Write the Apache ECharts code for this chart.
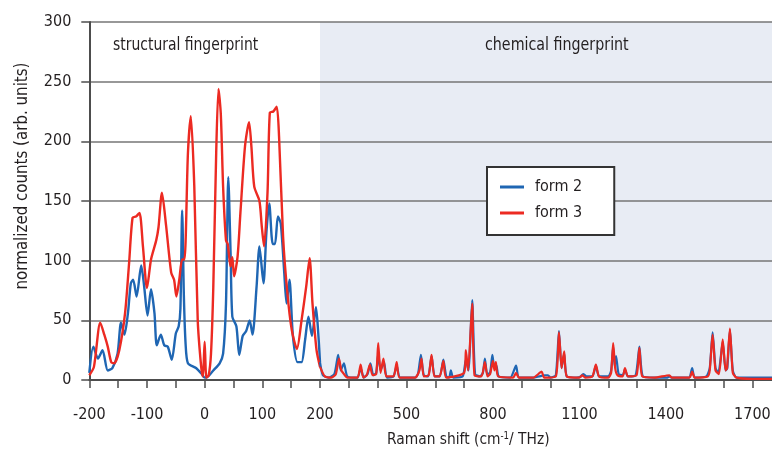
<!DOCTYPE html>
<html>
<head>
<meta charset="utf-8">
<script src="https://cdn.jsdelivr.net/npm/echarts@6/dist/echarts.min.js"></script>
<style>
html,body{margin:0;padding:0;background:#fff;overflow:hidden;}
#c{width:772px;height:455px;}
</style>
</head>
<body>
<div id="c"></div>
<script>
// Raman shift (cm-1) and normalized counts
const form2X = [-200,-193,-185,-177,-168,-160,-151,-145,-139,-133,-128,-124,-118,-110,-105,-99,-93,-87,-83,-76,-70,-64,-57,-50,-45,-42,-39,-36,-33,-29,-15,-5,0,3,15,26,32,37,41,45,48,55,60,66,72,78,83,90,95,102,107,112,118,122,127,132,138,142,147,153,161,168,174,180,186,193,197,200,
  210,230,250,263,272,283,295,330,341,352,365,375,385,395,402,410,422,432,455,466,478,530,540,550,560,575,587,598,615,628,638,648,654,662,695,706,715,728,738,755,765,772,780,790,798,805,812,820,860,880,890,940,960,980,991,1000,1018,1029,1038,1047,1056,1090,1105,1113,1125,1145,1157,1168,1200,1210,1217,1222,1227,1236,1250,1258,1268,1295,1308,1320,1360,1405,1412,1420,1480,1491,1500,1540,1552,1562,1572,1582,1597,1607,1613,1622,1632,1645,1700,1768];
const form2Y = [6,28,18,25,8,10,22,48,38,56,81,84,70,96,79,54,76,56,29,38,29,28,17,39,45,60,142,70,30,14,10,5,2,2,8,14,22,64,170,106,53,45,21,37,41,50,38,78,112,81,123,148,114,114,137,131,90,64,84,37,15,15,33,53,37,61,39,15,
  4,2,5,21,8,14,3,2,10,2,5,14,4,6,22,8,15,2,3,12,2,2,5,21,4,3,20,3,3,17,3,2,8,2,3,17,8,67,5,3,6,18,5,6,21,10,12,3,2,12,2,2,3,4,4,2,4,41,10,22,3,2,3,5,3,3,12,3,3,8,28,12,20,5,4,9,3,4,28,3,2,2,3,2,2,10,2,3,10,40,10,6,32,8,10,42,8,2,2,2];

const form3X = [-200,-192,-181,-174,-168,-162,-157,-148,-138,-131,-125,-119,-113,-107,-100,-93,-84,-80,-74,-67,-58,-53,-49,-44,-39,-35,-29,-24,-18,-12,-6,-3,0,3,7,11,15,20,24,28,32,37,40,45,48,51,57,62,70,77,81,86,95,99,103,109,113,119,125,129,136,143,151,160,168,176,182,187,194,200,
  217,240,255,266,274,283,295,330,341,350,362,373,382,395,402,410,420,430,455,466,476,530,545,552,560,577,587,597,615,628,638,700,706,714,728,736,760,772,781,790,800,805,810,818,870,880,890,940,969,978,1018,1029,1038,1047,1056,1100,1110,1120,1145,1157,1168,1200,1210,1217,1224,1232,1250,1258,1268,1298,1308,1318,1360,1412,1420,1482,1491,1500,1545,1552,1562,1572,1584,1597,1607,1612,1622,1632,1645,1700,1768];
const form3Y = [4,11,48,38,28,15,14,25,56,98,136,137,140,112,77,101,117,128,157,130,90,84,70,84,101,101,190,221,163,50,11,3,32,2,4,22,78,190,244,223,162,117,114,95,103,87,103,140,196,216,196,162,150,129,112,157,224,225,229,204,120,75,42,26,50,78,102,64,25,11,
  3,2,5,18,8,5,2,2,13,2,4,13,4,5,31,6,18,3,3,15,2,2,8,18,3,4,21,3,3,16,2,6,25,8,64,4,3,15,3,5,16,8,15,3,2,6,2,2,7,2,3,40,10,24,3,2,4,2,3,13,3,2,6,31,10,4,3,10,3,4,27,3,2,4,2,2,7,2,3,8,38,8,5,34,8,10,43,6,2,1,1];

const xTicksLeft = [-200,-100,0,100,200];
const xTicksRight = [500,800,1100,1400,1700];
const yTicks = [0,50,100,150,200,250,300];

const SPLIT = 200;
function pairs(xs, ys, lo, hi){
  const out = [];
  for (let i = 0; i < xs.length; i++) if (xs[i] >= lo && xs[i] <= hi) out.push([xs[i], ys[i]]);
  return out;
}

const FONT = "'Liberation Sans Narrow', 'DejaVu Sans Condensed', 'Arial Narrow', sans-serif";
const TXT = '#231f20';
const BLUE = '#1f66b3';
const RED = '#ec2a22';
const AX = '#4d4d4d';
const GRIDC = '#767676';

const chart = echarts.init(document.getElementById('c'), null, {renderer:'canvas'});

const yBase = {
  type:'value', min:0, max:300, interval:50,
  splitLine:{show:true, lineStyle:{color:GRIDC, width:1.6}}
};
const lineBase = {type:'line', showSymbol:false, symbol:'none', smooth:0.25, lineStyle:{width:2.4}, clip:true};

chart.setOption({
  animation:false,
  backgroundColor:'#fff',
  textStyle:{fontFamily:FONT},
  grid:[
    {left:89.3, top:22, width:230.7, height:358, outerBoundsMode:'none'},
    {left:320, top:22, width:452, height:358, outerBoundsMode:'none', show:true, backgroundColor:'#e8ecf4', borderWidth:0}
  ],
  xAxis:[
    {gridIndex:0, type:'value', min:-200, max:200, interval:50,
     axisLine:{show:true, onZero:false, lineStyle:{color:AX, width:2}},
     axisTick:{show:true, inside:false, length:8, lineStyle:{color:AX, width:1.5}},
     axisLabel:{color:TXT, fontSize:16, fontFamily:FONT, margin:27,
       formatter:v => xTicksLeft.indexOf(v) >= 0 ? String(v) : ''},
     splitLine:{show:false}},
    {gridIndex:1, type:'value', min:SPLIT, max:1768, interval:100,
     axisLine:{show:true, onZero:false, lineStyle:{color:AX, width:2}},
     axisTick:{show:true, inside:false, length:8, lineStyle:{color:AX, width:1.5}},
     axisLabel:{color:TXT, fontSize:16, fontFamily:FONT, margin:27, showMinLabel:true, showMaxLabel:false,
       formatter:v => xTicksRight.indexOf(v) >= 0 ? String(v) : ''},
     splitLine:{show:false}}
  ],
  yAxis:[
    Object.assign({gridIndex:0,
      axisLine:{show:true, onZero:false, lineStyle:{color:AX, width:2}},
      axisTick:{show:true, length:8, lineStyle:{color:AX, width:1.5}},
      axisLabel:{color:TXT, fontSize:16, fontFamily:FONT, margin:18,
        formatter:v => yTicks.indexOf(v) >= 0 ? String(v) : ''}}, yBase),
    Object.assign({gridIndex:1,
      axisLine:{show:false, onZero:false}, axisTick:{show:false}, axisLabel:{show:false}}, yBase)
  ],
  legend:{
    orient:'vertical', left:487, top:167,
    data:['form 2','form 3'],
    icon:'rect', itemWidth:24, itemHeight:3, itemGap:10,
    backgroundColor:'#fff', borderColor:'#333', borderWidth:2,
    padding:[12,32,14,13],
    textStyle:{color:TXT, fontSize:16, fontFamily:FONT, padding:[0,0,0,6]},
    selectedMode:false
  },
  graphic:[
    {type:'text', x:113, y:45, scaleX:0.86, silent:true, z:10,
     style:{text:'structural fingerprint', font:'18px ' + FONT, fill:TXT, verticalAlign:'middle'}},
    {type:'text', x:485, y:45, scaleX:0.88, silent:true, z:10,
     style:{text:'chemical fingerprint', font:'18px ' + FONT, fill:TXT, verticalAlign:'middle'}},
    {type:'text', x:387, y:440, scaleX:0.96, silent:true,
     style:{text:'Raman shift (cm{s|-1}/ THz)', font:'16px ' + FONT, fill:TXT, verticalAlign:'middle',
       rich:{s:{fontSize:10, fontFamily:FONT, verticalAlign:'top', padding:[0,0,8,0], fill:TXT}}}},
    {type:'text', x:22, y:176, rotation:Math.PI/2, scaleX:0.93, silent:true,
     style:{text:'normalized counts (arb. units)', font:'18px ' + FONT, fill:TXT, align:'center', verticalAlign:'middle'}}
  ],
  series:[
    Object.assign({}, lineBase, {name:'form 2', xAxisIndex:0, yAxisIndex:0, color:BLUE, lineStyle:{width:2.4, color:BLUE}, data:pairs(form2X, form2Y, -200, SPLIT)}),
    Object.assign({}, lineBase, {name:'form 3', xAxisIndex:0, yAxisIndex:0, color:RED, lineStyle:{width:2.4, color:RED}, data:pairs(form3X, form3Y, -200, SPLIT)}),
    Object.assign({}, lineBase, {name:'form 2', xAxisIndex:1, yAxisIndex:1, color:BLUE, lineStyle:{width:2.2, color:BLUE}, smooth:0.2, data:pairs(form2X, form2Y, SPLIT, 1768)}),
    Object.assign({}, lineBase, {name:'form 3', xAxisIndex:1, yAxisIndex:1, color:RED, lineStyle:{width:2.2, color:RED}, smooth:0.2, data:pairs(form3X, form3Y, SPLIT, 1768)})
  ]
});
</script>
</body>
</html>
